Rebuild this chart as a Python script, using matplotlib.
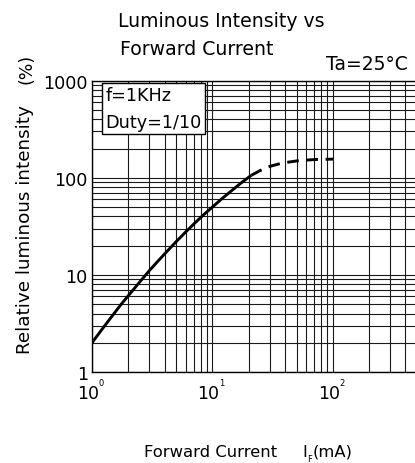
import numpy as np
import matplotlib
matplotlib.use('Agg')
import matplotlib.pyplot as plt

plt.rcParams['font.family'] = ['DejaVu Sans']

# 실선 구간 (전류 mA, 상대 광도 %)
current_solid = [1, 1.25, 1.5, 1.75, 2, 2.5, 3, 3.5, 4, 5, 6, 7, 8.5, 10, 12, 14.5, 17, 21]
intensity_solid = [2, 2.9, 3.9, 5.0, 6.1, 8.5, 11.1, 13.7, 16.4, 22, 27.7, 33.4, 41.9, 50, 61, 74, 87, 106]

# 점선 구간
current_dash = [21, 25, 30, 35, 40, 50, 60, 75, 100]
intensity_dash = [106, 119, 131, 138, 143, 149, 152, 154.5, 155.5]

x_ticks = [1, 10, 100]
x_exp = ['0', '1', '2']
y_ticks = [1, 10, 100, 1000]
y_labels = ['1', '10', '100', '1000']

fig = plt.figure(figsize=(4.15, 4.64), dpi=100)
ax = fig.add_axes([0.2217, 0.1961, 0.7783, 0.628])

ax.plot(current_solid, intensity_solid, color='black', linewidth=2.1,
        solid_capstyle='butt', solid_joinstyle='round')
ax.plot(current_dash, intensity_dash, color='black', linewidth=2.1, linestyle=(0, (4, 2.6)))

ax.set_xscale('log')
ax.set_yscale('log')
ax.set_xlim(1, 480)
ax.set_ylim(1, 1000)

ax.grid(True, which='both', color='#1a1a1a', linewidth=0.8)
ax.set_axisbelow(True)

ax.set_yticks(y_ticks)
ax.set_yticklabels(y_labels, fontsize=12.7)
ax.set_xticks(x_ticks)
ax.set_xticklabels([])
ax.tick_params(which='both', length=0, pad=3)
ax.yaxis.set_minor_formatter(matplotlib.ticker.NullFormatter())
ax.xaxis.set_minor_formatter(matplotlib.ticker.NullFormatter())

for sp in ax.spines.values():
    sp.set_color('black')
    sp.set_linewidth(1.0)
ax.spines['right'].set_visible(False)

# x축 눈금 라벨 10^n (지수는 작게)
for v, e in zip(x_ticks, x_exp):
    ax.annotate('10', xy=(v, 0), xycoords=('data', 'axes fraction'),
                xytext=(-3, -8.5), textcoords='offset points',
                ha='center', va='top', fontsize=12.5)
    ax.annotate(e, xy=(v, 0), xycoords=('data', 'axes fraction'),
                xytext=(5.0, -4.3), textcoords='offset points',
                ha='left', va='top', fontsize=6)

ax.text(0.042, 0.981, 'f=1KHz\nDuty=1/10', transform=ax.transAxes,
        ha='left', va='top', fontsize=12.7, linespacing=1.62,
        bbox=dict(facecolor='white', edgecolor='black', linewidth=1.0, pad=2.5))

fig.text(118 / 415, 1 - 27 / 464, 'Luminous Intensity vs', ha='left', va='baseline', fontsize=13.6)
fig.text(120 / 415, 1 - 55 / 464, 'Forward Current', ha='left', va='baseline', fontsize=13.6)
fig.text(326 / 415, 1 - 70.5 / 464, 'Ta=25°C', ha='left', va='baseline', fontsize=13.5)
fig.text(26 / 415, 1 - 68.5 / 464, '(%)', rotation=90, ha='center', va='center', fontsize=12.5)
fig.text(25 / 415, 1 - 230 / 464, 'Relative luminous intensity', rotation=90,
         ha='center', va='center', fontsize=13.2)

fig.text(144 / 415, 1 - 457 / 464, 'Forward Current', ha='left', va='baseline', fontsize=11.8)
fig.text(302 / 415, 1 - 457 / 464, 'I', ha='left', va='baseline', fontsize=11.8)
fig.text(307 / 415, 1 - 462 / 464, 'F', ha='left', va='baseline', fontsize=6)
fig.text(313 / 415, 1 - 457 / 464, '(mA)', ha='left', va='baseline', fontsize=11.8)

fig.savefig('out.png', dpi=100)
